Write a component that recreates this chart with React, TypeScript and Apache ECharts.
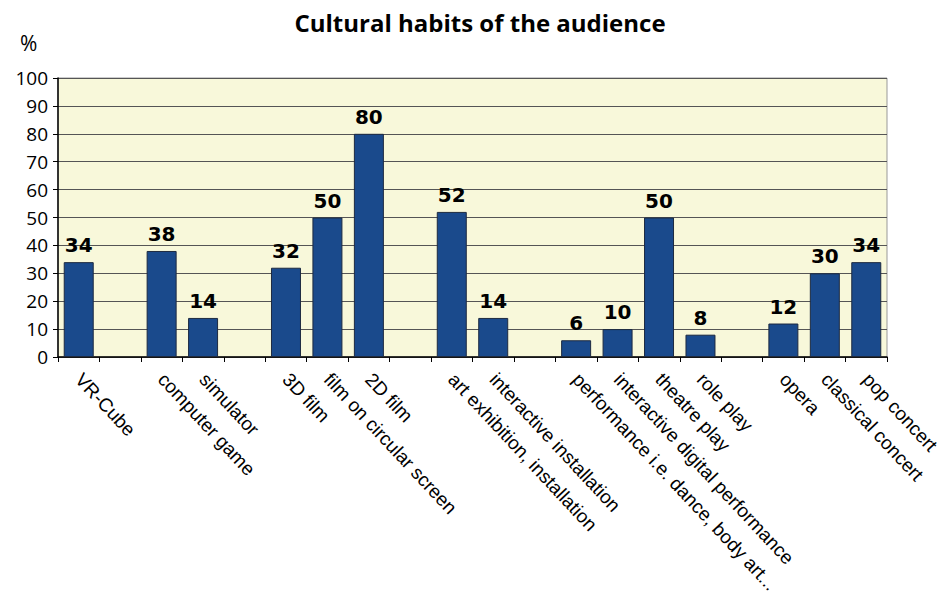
import React, { useEffect, useRef } from "react";
import * as echarts from "echarts";

const categories: string[] = [
  "VR-Cube", "",
  "computer game", "simulator", "",
  "3D film", "film on circular screen", "2D film", "",
  "art exhibition, installation", "interactive installation", "",
  "performance i.e. dance, body art...", "interactive digital performance", "theatre play", "role play", "",
  "opera", "classical concert", "pop concert",
];

const values: (number | null)[] = [
  34, null,
  38, 14, null,
  32, 50, 80, null,
  52, 14, null,
  6, 10, 50, 8, null,
  12, 30, 34,
];

const yTicks = { min: 0, max: 100, interval: 10 };

export default function App() {
  const ref = useRef<HTMLDivElement>(null);
  useEffect(() => {
    if (!ref.current) return;
    const chart = echarts.init(ref.current, undefined, { renderer: "svg" });
    chart.setOption({
      animation: false,
      backgroundColor: "#ffffff",
      title: {
        text: "Cultural habits of the audience",
        left: 475,
        textAlign: "center",
        top: 5,
        textStyle: { fontFamily: "Open Sans", fontWeight: "bold", fontSize: 24, color: "#000" },
      },
      graphic: [
        {
          type: "text",
          left: 20,
          top: 32,
          style: { text: "%", fontFamily: "Open Sans", fontSize: 21, fill: "#000" },
        },
      ],
      grid: {
        left: 58,
        right: 56,
        top: 78,
        bottom: 243,
        show: true,
        backgroundColor: "#F8F8DA",
        borderColor: "#999",
        borderWidth: 1,
        containLabel: false,
      },
      xAxis: {
        type: "category",
        data: categories,
        boundaryGap: true,
        axisLine: { show: true, lineStyle: { color: "#000", width: 1.5 } },
        axisTick: { show: true, interval: 0, length: 5, lineStyle: { color: "#000" } },
        axisLabel: {
          interval: 0,
          rotate: -47,
          margin: 19,
          fontFamily: "Liberation Sans",
          fontSize: 19,
          color: "#000",
        },
      },
      yAxis: {
        type: "value",
        min: yTicks.min,
        max: yTicks.max,
        interval: yTicks.interval,
        axisLine: { show: true, lineStyle: { color: "#000", width: 1.5 } },
        axisTick: { show: true, length: 5, lineStyle: { color: "#000" } },
        axisLabel: { fontFamily: "Open Sans", fontSize: 19, color: "#000", margin: 10 },
        splitLine: { show: true, lineStyle: { color: "#555", width: 1 } },
      },
      series: [
        {
          type: "bar",
          data: values,
          barWidth: 30,
          itemStyle: { color: "#1A4A8C", borderColor: "#1d2a40", borderWidth: 1 },
          label: {
            show: true,
            position: "top",
            distance: 7,
            fontFamily: "DejaVu Sans",
            fontWeight: 900,
            fontSize: 20,
            color: "#000",
          },
        },
      ],
    });
    return () => chart.dispose();
  }, []);
  return <div ref={ref} style={{ width: 943, height: 600, position: "absolute", left: 0, top: 0 }} />;
}
